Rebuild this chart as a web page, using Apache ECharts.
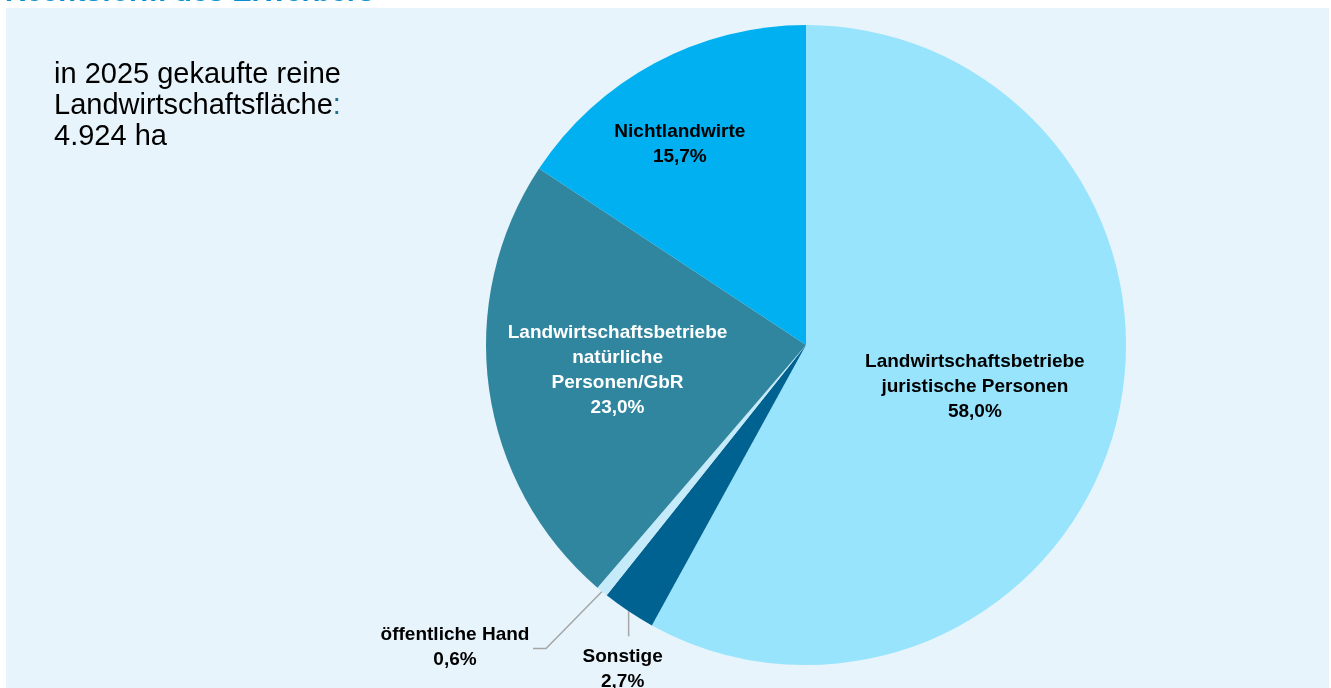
<!DOCTYPE html>
<html>
<head>
    <meta charset="utf-8">
    <title>Rechtsform des Erwerbers</title>
    <script src="https://cdn.jsdelivr.net/npm/echarts@6/dist/echarts.min.js"></script>
    <style>
        html, body { margin: 0; padding: 0; background: #ffffff; }
        #chart { width: 1331px; height: 688px; }
    </style>
</head>
<body>
<div id="chart"></div>
<script>
    // Anteile nach Rechtsform des Erwerbers (im Uhrzeigersinn ab 12 Uhr)
    var names = [
        'Landwirtschaftsbetriebe\njuristische Personen',
        'Sonstige',
        'öffentliche Hand',
        'Landwirtschaftsbetriebe\nnatürliche\nPersonen/GbR',
        'Nichtlandwirte'
    ];
    var values = [58.0, 2.7, 0.6, 23.0, 15.7];
    var colors = ['#97e4fc', '#006290', '#c5eafa', '#31869f', '#00b0f0'];
    var labelColors = ['#000000', '#000000', '#000000', '#ffffff', '#000000'];
    var outside = [false, true, true, false, false];

    var font = 'Arial, "Liberation Sans", sans-serif';

    // Verschiebung der Innenbeschriftungen
    var insideOffset = [[11, 1], [0, 0], [0, 0], [-27, 3], [-49, -57]];

    var pieData = names.map(function (n, i) {
        return {
            name: n,
            value: values[i],
            itemStyle: { color: colors[i] },
            label: {
                position: outside[i] ? 'outside' : 'inside',
                color: labelColors[i],
                offset: outside[i] ? [0, 0] : insideOffset[i]
            },
            labelLine: { show: outside[i] }
        };
    });

    var chart = echarts.init(document.getElementById('chart'));
    chart.setOption({
        animation: false,
        graphic: [
            {
                type: 'rect', z: -10,
                shape: { x: 6, y: 8, width: 1323, height: 690 },
                style: { fill: '#e7f4fb' }
            },
            {
                type: 'text', x: 5, y: -22,
                style: {
                    text: 'Rechtsform des Erwerbers',
                    font: 'bold 29px ' + font,
                    fill: '#0b8ed1'
                }
            },
            {
                type: 'text', left: 54, top: 59,
                style: {
                    text: 'in 2025 gekaufte reine\nLandwirtschaftsfläche{c|:}\n4.924 ha',
                    font: '29px ' + font,
                    fill: '#000000',
                    lineHeight: 31,
                    rich: { c: { fill: '#1f6f8c', font: '29px ' + font, lineHeight: 31 } }
                }
            }
        ],
        series: [{
            type: 'pie',
            center: [806, 345],
            radius: 320,
            startAngle: 90,
            clockwise: true,
            avoidLabelOverlap: false,
            minShowLabelAngle: 0,
            label: {
                show: true,
                fontFamily: font,
                fontSize: 19,
                fontWeight: 'bold',
                lineHeight: 25,
                align: 'center',
                formatter: function (p) {
                    return p.name + '\n' + p.value.toFixed(1).replace('.', ',') + '%';
                }
            },
            labelLine: {
                length: 20,
                length2: 10,
                lineStyle: { color: '#a6a6a6', width: 1.5 }
            },
            labelLayout: function (p) {
                if (!p.labelLinePoints) return {};
                var e = p.labelLinePoints[0];
                if (p.dataIndex === 1) {
                    return {
                        x: e[0] - 6, y: e[1] + 58,
                        align: 'center', verticalAlign: 'middle',
                        labelLinePoints: [e, [e[0], e[1] + 25], [e[0], e[1] + 25]]
                    };
                }
                if (p.dataIndex === 2) {
                    return {
                        x: e[0] - 147, y: e[1] + 56,
                        align: 'center', verticalAlign: 'middle',
                        labelLinePoints: [e, [e[0] - 56, e[1] + 57], [e[0] - 69, e[1] + 57]]
                    };
                }
                return {};
            },
            data: pieData
        }]
    });
</script>
</body>
</html>
